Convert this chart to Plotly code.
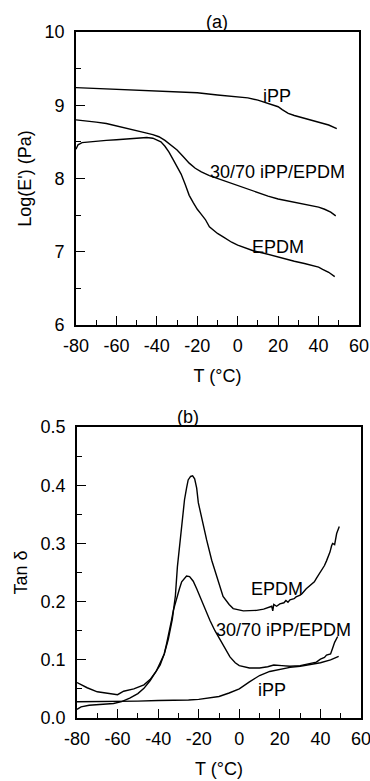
import plotly.graph_objects as go

# ---- (a) storage modulus ----
T_ipp_a = [-80, -70, -60, -50, -40, -30, -20, -10, 0, 5, 10, 15, 20, 22, 25, 28, 32, 36, 40, 45, 49]
E_ipp = [9.24, 9.23, 9.22, 9.21, 9.20, 9.19, 9.17, 9.14, 9.12, 9.10, 9.07, 9.03, 8.98, 8.94, 8.89, 8.86, 8.83, 8.80, 8.77, 8.73, 8.68]

T_bl_a = [-80, -75, -70, -65, -60, -55, -50, -45, -42, -39, -36, -33, -30, -27, -24, -21, -18, -14,
          -10, -5, 0, 5, 10, 15, 20, 25, 30, 35, 40, 43, 46, 48.5]
E_bl = [8.80, 8.79, 8.77, 8.75, 8.72, 8.69, 8.66, 8.62, 8.60, 8.57, 8.52, 8.46, 8.39, 8.30, 8.21, 8.14,
        8.09, 8.04, 8.00, 7.95, 7.90, 7.85, 7.80, 7.76, 7.72, 7.69, 7.66, 7.64, 7.61, 7.58, 7.54, 7.49]

T_ep_a = [-80, -79, -77, -74, -70, -65, -60, -55, -50, -45, -42, -40, -38, -36, -34, -32, -30, -28, -26,
          -24, -22, -20, -18, -16, -14, -12, -10, -7, -3, 0, 3, 8, 13, 18, 23, 28, 33, 36, 40, 42, 45, 48]
E_ep = [8.40, 8.46, 8.49, 8.50, 8.51, 8.52, 8.53, 8.54, 8.55, 8.56, 8.55, 8.53, 8.50, 8.44, 8.36, 8.26,
        8.16, 8.06, 7.92, 7.77, 7.67, 7.58, 7.51, 7.44, 7.34, 7.29, 7.25, 7.20, 7.13, 7.09, 7.06, 7.01,
        6.98, 6.94, 6.91, 6.87, 6.84, 6.82, 6.79, 6.76, 6.72, 6.66]

# ---- (b) tan delta ----
T_ipp_b = [-80, -70, -60, -50, -40, -30, -25, -20, -15, -10, -5, 0, 5, 10, 15, 20, 25, 30, 35, 40, 45, 49]
D_ipp = [0.028, 0.028, 0.029, 0.029, 0.030, 0.030, 0.031, 0.032, 0.034, 0.037, 0.043, 0.050, 0.062,
         0.073, 0.080, 0.084, 0.087, 0.089, 0.092, 0.095, 0.100, 0.106]

T_bl_b = [-80, -75, -70, -65, -60, -57, -52, -47, -44, -41, -39, -37, -35.8, -34.5, -33.4, -32.5, -31,
          -29.5, -28.4, -27, -26, -24.5, -22.7, -21, -19.4, -17, -14.5, -12, -9.5, -7, -4.6, -2, 0, 5,
          10, 14, 17, 21, 25, 30, 35, 38, 40, 42, 43, 45, 46, 47, 48.5]
D_bl = [0.061, 0.052, 0.045, 0.042, 0.040, 0.046, 0.050, 0.057, 0.066, 0.080, 0.094, 0.110, 0.128,
        0.148, 0.168, 0.185, 0.205, 0.222, 0.234, 0.241, 0.244, 0.243, 0.235, 0.222, 0.208, 0.188,
        0.168, 0.150, 0.134, 0.118, 0.105, 0.095, 0.090, 0.086, 0.086, 0.088, 0.091, 0.090, 0.089,
        0.090, 0.094, 0.096, 0.101, 0.104, 0.108, 0.110, 0.120, 0.130, 0.140]

T_ep_b = [-80, -78, -74, -68, -62, -58, -54, -50, -47, -44, -42, -39, -37, -35, -33, -31.5, -30.5,
          -29.2, -28, -27, -26, -25.2, -24, -23, -22, -21, -20.2, -18.6, -16.1, -13.6, -11, -8, -5,
          -3, 2, 8.5, 12, 15, 16, 16.5, 17, 18.4, 20, 22, 23, 24, 25, 27, 28, 30, 31, 33, 35, 37, 38,
          40, 42, 43, 44.7, 45.5, 46, 47, 48, 49.3]
D_ep = [0.015, 0.019, 0.022, 0.024, 0.025, 0.028, 0.034, 0.042, 0.051, 0.064, 0.074, 0.091, 0.110,
        0.135, 0.170, 0.210, 0.260, 0.306, 0.345, 0.375, 0.395, 0.409, 0.415, 0.416, 0.411, 0.395,
        0.370, 0.343, 0.306, 0.271, 0.243, 0.209, 0.195, 0.188, 0.184, 0.185, 0.187, 0.190, 0.192,
        0.184, 0.195, 0.192, 0.196, 0.198, 0.202, 0.199, 0.203, 0.205, 0.208, 0.211, 0.214, 0.222,
        0.228, 0.234, 0.240, 0.250, 0.262, 0.270, 0.285, 0.296, 0.300, 0.298, 0.317, 0.329]

x_ticks = [-80, -60, -40, -20, 0, 20, 40, 60]
x_ticktext = ["-80", "-60", "-40", "-20", "0", "20", "40", "60"]
ya_ticks = [6, 7, 8, 9, 10]
yb_ticks = [0, 0.1, 0.2, 0.3, 0.4, 0.5]
yb_ticktext = ["0.0", "0.1", "0.2", "0.3", "0.4", "0.5"]

FONT = "Liberation Sans, Arial, sans-serif"
LINE = dict(color="black", width=1.4)

fig = go.Figure()
for x, y in [(T_ipp_a, E_ipp), (T_bl_a, E_bl), (T_ep_a, E_ep)]:
    fig.add_trace(go.Scatter(x=x, y=y, mode="lines", line=LINE, xaxis="x", yaxis="y", showlegend=False))
for x, y in [(T_ipp_b, D_ipp), (T_bl_b, D_bl), (T_ep_b, D_ep)]:
    fig.add_trace(go.Scatter(x=x, y=y, mode="lines", line=LINE, xaxis="x2", yaxis="y2", showlegend=False))

W, H = 370, 781
minor = dict(ticks="inside", ticklen=5, tickcolor="black", tickwidth=1.2)
ax_common = dict(
    showline=True, linecolor="black", linewidth=1.6, mirror=True,
    ticks="inside", tickcolor="black", tickwidth=1.4, ticklen=9,
    showgrid=False, zeroline=False, automargin=False, ticklabeloverflow="allow",
    tickfont=dict(family=FONT, size=18, color="black"),
)
tfont = dict(family=FONT, size=18, color="black")

fig.update_layout(
    width=W, height=H,
    margin=dict(l=0, r=0, t=0, b=0, autoexpand=False),
    plot_bgcolor="white", paper_bgcolor="white",
    font=dict(family=FONT, size=18, color="black"),
    xaxis=dict(ax_common, domain=[76 / W, 359 / W], anchor="y", range=[-80, 60],
               tickvals=x_ticks, ticktext=x_ticktext,
               minor=dict(minor, dtick=10), ticklabelstandoff=4,
               title=dict(text="T (°C)", font=tfont, standoff=14)),
    yaxis=dict(ax_common, domain=[1 - 325 / H, 1 - 32 / H], anchor="x", range=[6, 10],
               tickvals=ya_ticks,
               minor=dict(minor, dtick=0.5), ticklabelstandoff=6,
               title=dict(text="Log(E') (Pa)", font=tfont, standoff=8)),
    xaxis2=dict(ax_common, domain=[77 / W, 361 / W], anchor="y2", range=[-80, 60],
                tickvals=x_ticks, ticktext=x_ticktext,
                minor=dict(minor, dtick=10), ticklabelstandoff=4,
                title=dict(text="T (°C)", font=tfont, standoff=14)),
    yaxis2=dict(ax_common, domain=[1 - 718 / H, 1 - 427 / H], anchor="x2", range=[0, 0.5],
                tickvals=yb_ticks, ticktext=yb_ticktext,
                minor=dict(minor, dtick=0.05), ticklabelstandoff=6,
                title=dict(text="Tan δ", font=tfont, standoff=8)),
)

ann = dict(showarrow=False, font=dict(family=FONT, size=18, color="black"))
fig.add_annotation(x=19.5, y=9.13, xref="x", yref="y", text="iPP", **ann)
fig.add_annotation(x=19.8, y=8.09, xref="x", yref="y", text="30/70 iPP/EPDM", **ann)
fig.add_annotation(x=20, y=7.06, xref="x", yref="y", text="EPDM", **ann)
fig.add_annotation(x=18.4, y=0.222, xref="x2", yref="y2", text="EPDM", **ann)
fig.add_annotation(x=22, y=0.151, xref="x2", yref="y2", text="30/70 iPP/EPDM", **ann)
fig.add_annotation(x=16, y=0.048, xref="x2", yref="y2", text="iPP", **ann)
fig.add_annotation(x=217 / W, y=1 - 33 / H, xref="paper", yref="paper", yanchor="bottom",
                   borderpad=0, text="(a)", **ann)
fig.add_annotation(x=188 / W, y=1 - 428 / H, xref="paper", yref="paper", yanchor="bottom",
                   borderpad=0, text="(b)", **ann)

fig.write_html("out.html")
